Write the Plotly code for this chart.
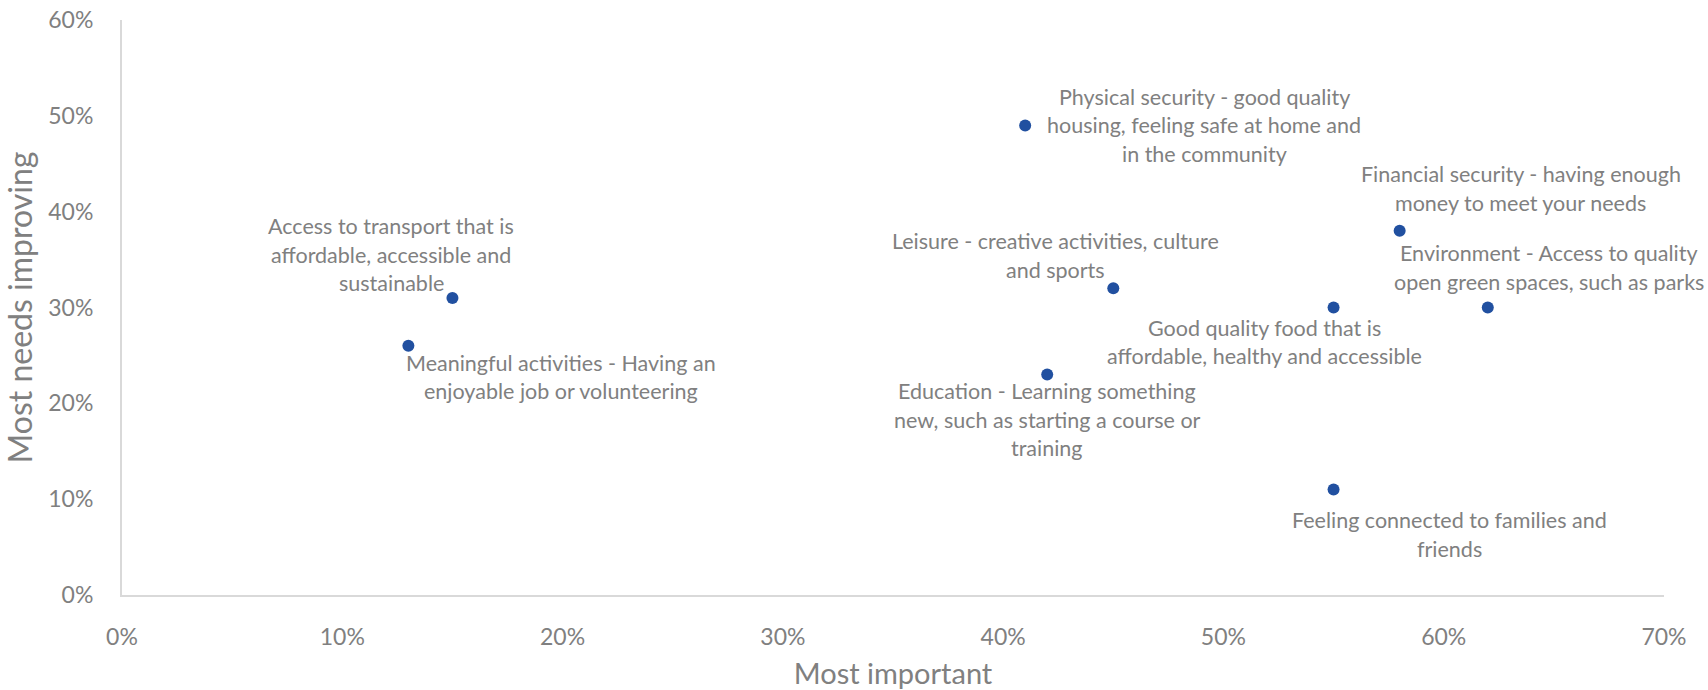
import plotly.graph_objects as go

labels = [
    "Access to transport that is<br>affordable, accessible and<br>sustainable",
    "Meaningful activities - Having an<br>enjoyable job or volunteering",
    "Physical security - good quality<br>housing, feeling safe at home and<br>in the community",
    "Leisure - creative activities, culture<br>and sports",
    "Education - Learning something<br>new, such as starting a course or<br>training",
    "Good quality food that is<br>affordable, healthy and accessible",
    "Financial security - having enough<br>money to meet your needs",
    "Environment - Access to quality<br>open green spaces, such as parks",
    "Feeling connected to families and<br>friends",
]
most_important = [0.15, 0.13, 0.41, 0.45, 0.42, 0.55, 0.58, 0.62, 0.55]
most_needs_improving = [0.31, 0.26, 0.49, 0.32, 0.23, 0.30, 0.38, 0.30, 0.11]

# label offsets from point (pixels, right / down) for the label block centre
label_dx = [-61, 153, 179, -58, 0, -69, 121, 61, 116]
label_dy = [-43, 31, 0, -33, 45, 34.5, -42.5, -40, 45]

GRAY = "#808080"
FONT = "Lato"
LINE_H = 28.5

fig = go.Figure()
fig.add_trace(go.Scatter(
    x=most_important, y=most_needs_improving, mode="markers",
    marker=dict(size=12, color="#2150A0"),
    hoverinfo="skip", showlegend=False,
))

annotations = []
for lab, x, y, dx, dy in zip(labels, most_important, most_needs_improving, label_dx, label_dy):
    lines = lab.split("<br>")
    n = len(lines)
    for i, ln in enumerate(lines):
        off = (i - (n - 1) / 2) * LINE_H + dy
        annotations.append(dict(
            x=x, y=y, xref="x", yref="y", text=ln, showarrow=False,
            xshift=dx, yshift=-off, xanchor="center", yanchor="middle",
            font=dict(family=FONT, size=21.5, color=GRAY),
        ))

fig.update_layout(
    width=1708, height=690,
    margin=dict(l=122, r=44, t=20, b=95),
    paper_bgcolor="white", plot_bgcolor="white",
    font=dict(family=FONT, color=GRAY),
    annotations=annotations,
    xaxis=dict(
        range=[0, 0.7], dtick=0.1, tickformat=".0%",
        showgrid=False, zeroline=False, automargin=False,
        showline=True, linecolor="#d9d9d9", linewidth=2,
        tickfont=dict(family=FONT, size=23, color=GRAY),
        ticklabelstandoff=20,
        title=dict(text="Most important", font=dict(family=FONT, size=29, color=GRAY), standoff=17),
    ),
    yaxis=dict(
        range=[0, 0.6], dtick=0.1, tickformat=".0%",
        showgrid=False, zeroline=False, automargin=False,
        showline=True, linecolor="#d9d9d9", linewidth=2,
        tickfont=dict(family=FONT, size=23, color=GRAY),
        ticklabelstandoff=22,
        title=dict(text="Most needs improving", font=dict(family=FONT, size=32, color=GRAY), standoff=6),
    ),
)

fig.write_html("out.html", config={"displayModeBar": False},
               post_script="document.body.style.margin='0';")
